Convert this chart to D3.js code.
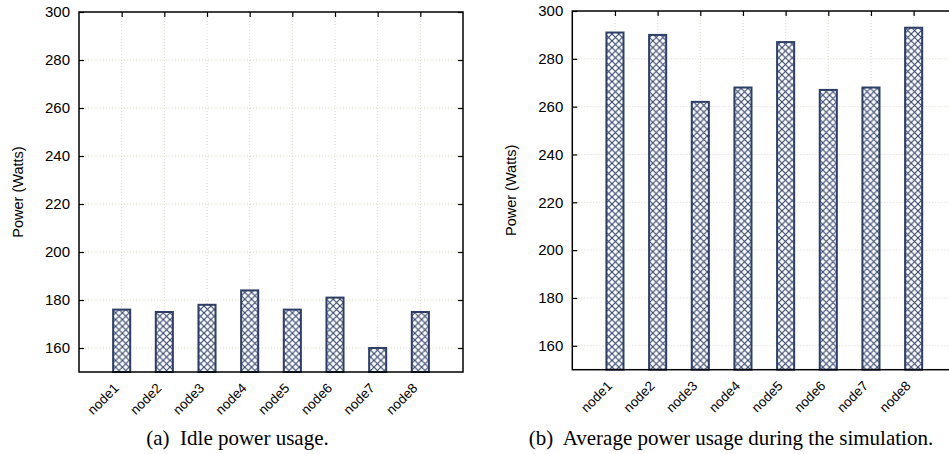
<!DOCTYPE html>
<html><head><meta charset="utf-8">
<script src="https://cdn.jsdelivr.net/npm/d3@7"></script>
<style>body{margin:0;background:#fff}svg{display:block}</style>
</head><body>
<svg id="chart" width="949" height="454"></svg>
<script>
const categories = ["node1","node2","node3","node4","node5","node6","node7","node8"];
const idleValues = [176,175,178,184,176,181,160,175];
const avgValues  = [291,290,262,268,287,267,268,293];
const yTicks = [160,180,200,220,240,260,280,300];
const yDomain = [150,300];
const yLabel = "Power (Watts)";
const captions = ["(a)\u00a0 Idle power usage.", "(b)\u00a0 Average power usage during the simulation."];

const svg = d3.select("#chart");
const defs = svg.append("defs");
const P = 6.8;
const pat = defs.append("pattern").attr("id","hatch").attr("patternUnits","userSpaceOnUse")
  .attr("width",P).attr("height",P);
pat.append("rect").attr("width",P).attr("height",P).attr("fill","#fff");
pat.append("path").attr("d",`M-1,-1L${P+1},${P+1}M-1,${P+1}L${P+1},-1`)
  .attr("stroke","#34446c").attr("stroke-width",1.1).attr("fill","none");

function panel(cfg){
  const g = svg.append("g");
  const x = d3.scaleLinear().domain([0, categories.length+1]).range([cfg.left, cfg.right]);
  const y = d3.scaleLinear().domain(yDomain).range([cfg.bottom, cfg.top]);
  const xs = d3.range(1, categories.length+1);
  // grid
  g.selectAll(".gy").data(yTicks.filter(t=>t<yDomain[1])).join("line")
    .attr("x1",cfg.left).attr("x2",cfg.right).attr("y1",d=>y(d)).attr("y2",d=>y(d))
    .attr("stroke","#dcd9c6").attr("stroke-width",1).attr("stroke-dasharray","1,2");
  g.selectAll(".gx").data(xs).join("line")
    .attr("x1",d=>x(d)).attr("x2",d=>x(d)).attr("y1",cfg.top).attr("y2",cfg.bottom)
    .attr("stroke","#dcd9c6").attr("stroke-width",1).attr("stroke-dasharray","1,2");
  // bars
  const bw = (x(1)-x(0))*0.40;
  g.selectAll(".bar").data(cfg.values).join("rect")
    .attr("x",(d,i)=>x(i+1)-bw/2).attr("width",bw)
    .attr("y",d=>y(d)).attr("height",d=>cfg.bottom-y(d))
    .attr("fill","url(#hatch)").attr("stroke","#2f3e66").attr("stroke-width",2);
  // axes (inward ticks, mirrored)
  const axL = g.append("g").attr("transform",`translate(${cfg.left},0)`)
    .call(d3.axisLeft(y).tickValues(yTicks).tickSize(-5).tickPadding(9).tickFormat(d3.format("d")));
  const axR = g.append("g").attr("transform",`translate(${cfg.right},0)`)
    .call(d3.axisRight(y).tickValues(yTicks).tickSize(-5).tickFormat(""));
  const axT = g.append("g").attr("transform",`translate(0,${cfg.top})`)
    .call(d3.axisTop(x).tickValues(xs).tickSize(-5).tickFormat(""));
  const axB = g.append("g").attr("transform",`translate(0,${cfg.bottom})`)
    .call(d3.axisBottom(x).tickValues(xs).tickSize(0).tickFormat(""));
  [axL,axR,axT,axB].forEach(a=>{
    a.select(".domain").remove();
    a.selectAll(".tick line").attr("stroke","#000").attr("stroke-width",1.2);
  });
  axL.selectAll("text").attr("font-family","Liberation Sans, Arial, sans-serif")
    .attr("font-size","15px").attr("fill","#000");
  // frame
  g.append("rect").attr("x",cfg.left).attr("y",cfg.top)
    .attr("width",cfg.right-cfg.left).attr("height",cfg.bottom-cfg.top)
    .attr("fill","none").attr("stroke","#000").attr("stroke-width",1.5);
  // x labels
  g.selectAll(".xl").data(categories).join("text")
    .attr("transform",(d,i)=>`translate(${x(i+1)-2},${cfg.bottom+17}) rotate(-45)`)
    .attr("text-anchor","end")
    .attr("font-family","Liberation Sans, Arial, sans-serif").attr("font-size","13.5px")
    .text(d=>d);
  // y label
  g.append("text").attr("transform",`translate(${cfg.ylabX},${(cfg.top+cfg.bottom)/2}) rotate(-90)`)
    .attr("text-anchor","middle").attr("font-family","Liberation Sans, Arial, sans-serif")
    .attr("font-size","14.5px").text(yLabel);
  // caption
  g.append("text").attr("x",cfg.capX).attr("y",445).attr("text-anchor","middle")
    .attr("font-family","Liberation Serif, Times New Roman, serif").attr("font-size","21px")
    .text(cfg.caption);
}

panel({left:79, right:463, top:12, bottom:372, values:idleValues, ylabX:23, capX:237.5, caption:captions[0]});
panel({left:572.3, right:956.3, top:11, bottom:369.7, values:avgValues, ylabX:516, capX:731, caption:captions[1]});
</script>
</body></html>
